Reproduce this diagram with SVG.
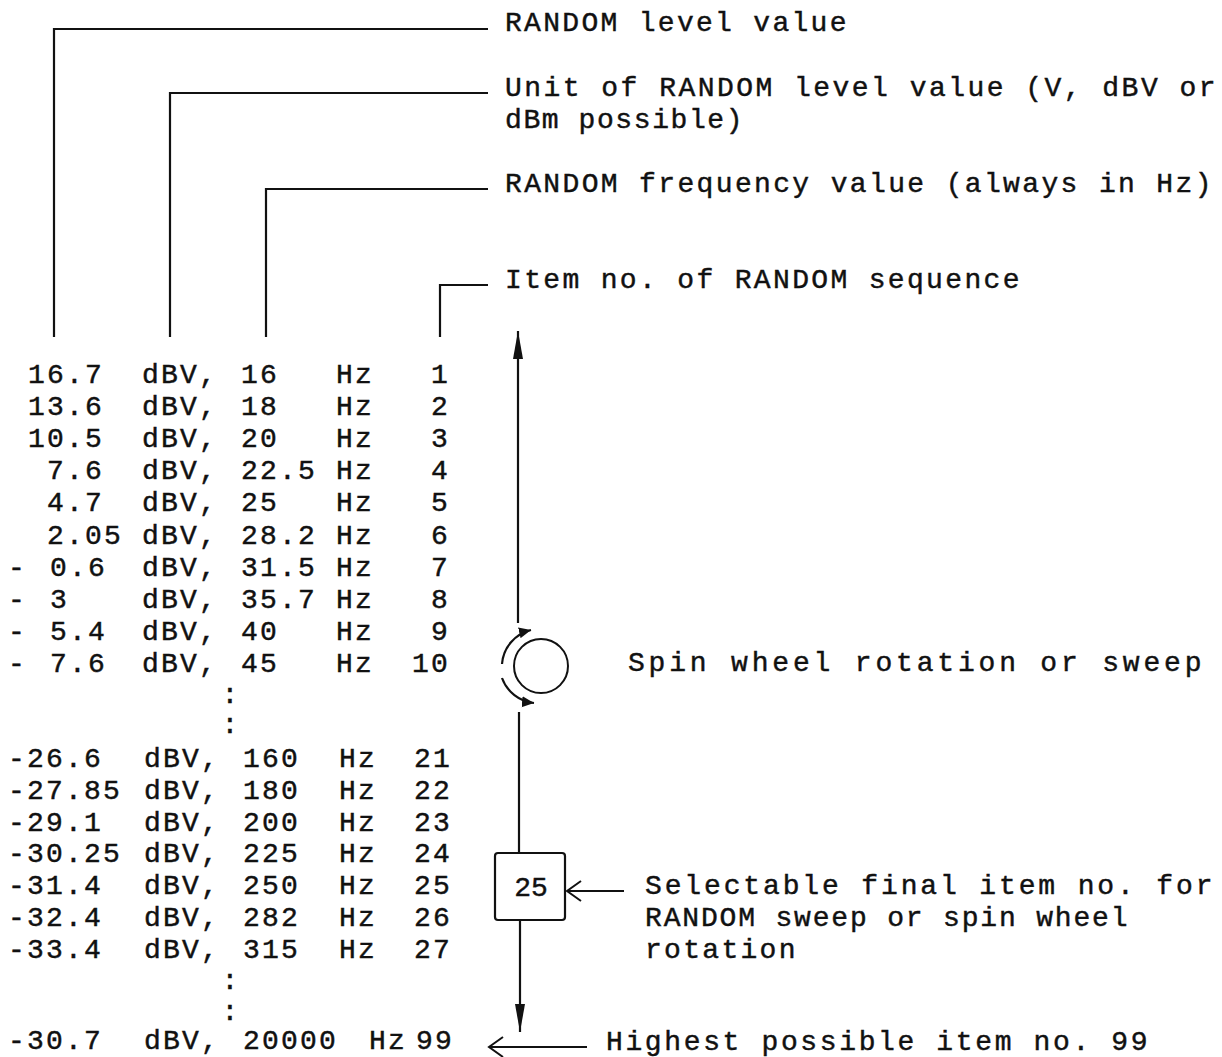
<svg xmlns="http://www.w3.org/2000/svg" width="1222" height="1057" viewBox="0 0 1222 1057">
<style>
text{font-family:"Liberation Mono","Courier New",monospace;font-size:28px;fill:#111;stroke:#111;stroke-width:0.45px;}
.tb{letter-spacing:2.2px;}
.lb{letter-spacing:2.5px;}
.ln{fill:none;stroke:#111;stroke-width:2.2;}
.c{text-anchor:middle;}
.e{text-anchor:end;}
</style>
<defs>
<marker id="fa" markerUnits="userSpaceOnUse" markerWidth="30" markerHeight="12" refX="28" refY="6" orient="auto">
<path d="M0,1 L28,6 L0,11 z" fill="#111"/>
</marker>
<marker id="sa" markerUnits="userSpaceOnUse" markerWidth="14" markerHeight="12" refX="12" refY="6" orient="auto">
<path d="M0,0.5 L12,6 L0,11.5 z" fill="#111"/>
</marker>
<marker id="oa" markerUnits="userSpaceOnUse" markerWidth="18" markerHeight="24" refX="16" refY="12" orient="auto">
<path d="M2,2 L16,12 L2,22" fill="none" stroke="#111" stroke-width="2"/>
</marker>
</defs>
<g id="connectors">
<path class="ln" d="M54,337 V29 H488"/>
<path class="ln" d="M170,337 V93 H488"/>
<path class="ln" d="M266,337 V189 H488"/>
<path class="ln" d="M440,337 V285 H488"/>
<path class="ln" d="M518,623 V331" marker-end="url(#fa)"/>
<path class="ln" d="M519,712 V853"/>
<path class="ln" d="M520,920 V1032" marker-end="url(#fa)"/>
<path class="ln" d="M624,891 H567" marker-end="url(#oa)"/>
<path class="ln" d="M587,1047 H489" marker-end="url(#oa)"/>
<path class="ln" d="M502,664 A38,38 0 0 1 531,630" marker-end="url(#sa)"/>
<path class="ln" d="M502,678 A38,38 0 0 0 534,703" marker-end="url(#sa)"/>
</g>
<g id="wheel">
<circle cx="541" cy="666" r="27" fill="none" stroke="#111" stroke-width="2"/>
</g>
<g id="final-box">
<rect x="495" y="853" width="70" height="67" rx="3" fill="none" stroke="#111" stroke-width="2.2"/>
<text class="c" x="531" y="896">25</text>
</g>
<g id="labels" class="lb">
<text x="505" y="31" textLength="344" lengthAdjust="spacing">RANDOM level value</text>
<text x="505" y="96" textLength="713" lengthAdjust="spacing">Unit of RANDOM level value (V, dBV or</text>
<text x="505" y="128" textLength="240" lengthAdjust="spacing">dBm possible)</text>
<text x="505" y="192" textLength="709" lengthAdjust="spacing">RANDOM frequency value (always in Hz)</text>
<text x="505" y="288" textLength="517" lengthAdjust="spacing">Item no. of RANDOM sequence</text>
<text x="628" y="671" textLength="576" lengthAdjust="spacing">Spin wheel rotation or sweep</text>
<text x="645" y="894" textLength="570" lengthAdjust="spacing">Selectable final item no. for</text>
<text x="645" y="926" textLength="485" lengthAdjust="spacing">RANDOM sweep or spin wheel</text>
<text x="645" y="958" textLength="153" lengthAdjust="spacing">rotation</text>
<text x="606" y="1050" textLength="544" lengthAdjust="spacing">Highest possible item no. 99</text>
</g>
<g id="table" class="tb">
<text y="383"><tspan x="28">16.7</tspan><tspan x="142">dBV,</tspan><tspan x="241">16</tspan><tspan x="336">Hz</tspan><tspan class="e" x="450">1</tspan></text>
<text y="415"><tspan x="28">13.6</tspan><tspan x="142">dBV,</tspan><tspan x="241">18</tspan><tspan x="336">Hz</tspan><tspan class="e" x="450">2</tspan></text>
<text y="447"><tspan x="28">10.5</tspan><tspan x="142">dBV,</tspan><tspan x="241">20</tspan><tspan x="336">Hz</tspan><tspan class="e" x="450">3</tspan></text>
<text y="479"><tspan x="47">7.6</tspan><tspan x="142">dBV,</tspan><tspan x="241">22.5</tspan><tspan x="336">Hz</tspan><tspan class="e" x="450">4</tspan></text>
<text y="511"><tspan x="47">4.7</tspan><tspan x="142">dBV,</tspan><tspan x="241">25</tspan><tspan x="336">Hz</tspan><tspan class="e" x="450">5</tspan></text>
<text y="544"><tspan x="47">2.05</tspan><tspan x="142">dBV,</tspan><tspan x="241">28.2</tspan><tspan x="336">Hz</tspan><tspan class="e" x="450">6</tspan></text>
<text y="576"><tspan x="8">-</tspan><tspan x="50">0.6</tspan><tspan x="142">dBV,</tspan><tspan x="241">31.5</tspan><tspan x="336">Hz</tspan><tspan class="e" x="450">7</tspan></text>
<text y="608"><tspan x="8">-</tspan><tspan x="50">3</tspan><tspan x="142">dBV,</tspan><tspan x="241">35.7</tspan><tspan x="336">Hz</tspan><tspan class="e" x="450">8</tspan></text>
<text y="640"><tspan x="8">-</tspan><tspan x="50">5.4</tspan><tspan x="142">dBV,</tspan><tspan x="241">40</tspan><tspan x="336">Hz</tspan><tspan class="e" x="450">9</tspan></text>
<text y="672"><tspan x="8">-</tspan><tspan x="50">7.6</tspan><tspan x="142">dBV,</tspan><tspan x="241">45</tspan><tspan x="336">Hz</tspan><tspan class="e" x="450">10</tspan></text>
<text class="c" x="231" y="703">:</text>
<text class="c" x="231" y="733">:</text>
<text y="767"><tspan x="8">-26.6</tspan><tspan x="144">dBV,</tspan><tspan x="243">160</tspan><tspan x="339">Hz</tspan><tspan class="e" x="452">21</tspan></text>
<text y="799"><tspan x="8">-27.85</tspan><tspan x="144">dBV,</tspan><tspan x="243">180</tspan><tspan x="339">Hz</tspan><tspan class="e" x="452">22</tspan></text>
<text y="831"><tspan x="8">-29.1</tspan><tspan x="144">dBV,</tspan><tspan x="243">200</tspan><tspan x="339">Hz</tspan><tspan class="e" x="452">23</tspan></text>
<text y="862"><tspan x="8">-30.25</tspan><tspan x="144">dBV,</tspan><tspan x="243">225</tspan><tspan x="339">Hz</tspan><tspan class="e" x="452">24</tspan></text>
<text y="894"><tspan x="8">-31.4</tspan><tspan x="144">dBV,</tspan><tspan x="243">250</tspan><tspan x="339">Hz</tspan><tspan class="e" x="452">25</tspan></text>
<text y="926"><tspan x="8">-32.4</tspan><tspan x="144">dBV,</tspan><tspan x="243">282</tspan><tspan x="339">Hz</tspan><tspan class="e" x="452">26</tspan></text>
<text y="958"><tspan x="8">-33.4</tspan><tspan x="144">dBV,</tspan><tspan x="243">315</tspan><tspan x="339">Hz</tspan><tspan class="e" x="452">27</tspan></text>
<text class="c" x="231" y="989">:</text>
<text class="c" x="231" y="1020">:</text>
<text y="1049"><tspan x="8">-30.7</tspan><tspan x="144">dBV,</tspan><tspan x="243">20000</tspan><tspan x="369">Hz</tspan><tspan class="e" x="454">99</tspan></text>
</g>
</svg>
